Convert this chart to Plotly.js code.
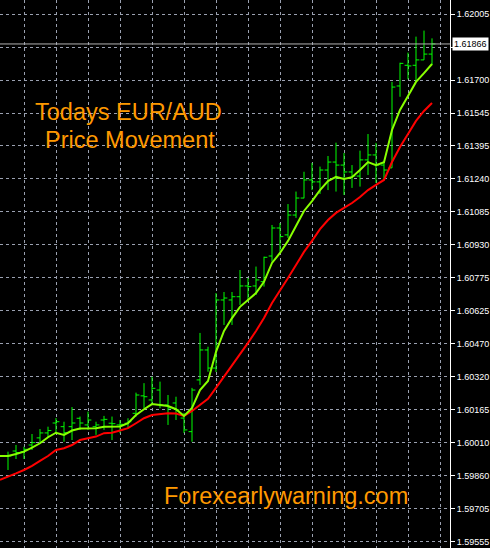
<!DOCTYPE html>
<html><head><meta charset="utf-8">
<script src="https://cdn.plot.ly/plotly-3.0.1.min.js"></script>
<style>html,body{margin:0;padding:0;background:#000;}#chart{width:490px;height:548px;}</style>
</head><body><div id="chart"></div><script>
// OHLC bars (bar 1 .. 54)
const barOpen = [1.59954,1.59977,1.59974,1.60005,1.60038,1.60061,1.60107,1.60090,1.60090,1.60129,
 1.60098,1.60090,1.60121,1.60106,1.60098,1.60106,1.60152,1.60233,1.60214,1.60260,
 1.60191,1.60200,1.60130,1.60067,1.60307,1.60446,1.60362,1.60678,1.60678,1.60693,
 1.60743,1.60743,1.60763,1.60882,1.61012,1.60980,1.61072,1.61151,1.61235,1.61226,
 1.61281,1.61318,1.61304,1.61272,1.61253,1.61328,1.61351,1.61304,1.61291,1.61671,
 1.61767,1.61767,1.61792,1.61819];
const barHigh = [1.59974,1.60005,1.59997,1.60056,1.60079,1.60090,1.60130,1.60113,1.60181,1.60137,
 1.60160,1.60113,1.60140,1.60137,1.60121,1.60129,1.60248,1.60292,1.60322,1.60299,
 1.60237,1.60229,1.60154,1.60270,1.60525,1.60461,1.60710,1.60715,1.60715,1.60817,
 1.60780,1.60833,1.60879,1.61026,1.61035,1.61123,1.61181,1.61273,1.61314,1.61297,
 1.61346,1.61408,1.61360,1.61304,1.61371,1.61448,1.61407,1.61320,1.61690,1.61779,
 1.61826,1.61900,1.61928,1.61892];
const barLow = [1.59889,1.59940,1.59940,1.59982,1.60015,1.60038,1.60056,1.60020,1.60028,1.60075,
 1.60075,1.60052,1.60075,1.60028,1.60060,1.60083,1.60137,1.60176,1.60191,1.60176,
 1.60098,1.60121,1.60061,1.60020,1.60284,1.60345,1.60344,1.60562,1.60562,1.60655,
 1.60670,1.60701,1.60740,1.60856,1.60902,1.60966,1.61059,1.61150,1.61188,1.61170,
 1.61188,1.61181,1.61165,1.61198,1.61204,1.61258,1.61221,1.61235,1.61291,1.61621,
 1.61702,1.61691,1.61792,1.61768];
const barClose = [1.59954,1.59970,1.59985,1.60016,1.60061,1.60072,1.60113,1.60062,1.60107,1.60107,
 1.60121,1.60098,1.60124,1.60104,1.60101,1.60113,1.60237,1.60229,1.60268,1.60191,
 1.60177,1.60168,1.60075,1.60260,1.60446,1.60362,1.60678,1.60687,1.60693,1.60743,
 1.60740,1.60771,1.60876,1.61012,1.60972,1.61072,1.61151,1.61235,1.61226,1.61281,
 1.61318,1.61304,1.61272,1.61253,1.61328,1.61351,1.61304,1.61281,1.61666,1.61776,
 1.61764,1.61792,1.61819,1.61866];
// Moving averages (bar 0 .. 54)
const maFast = [1.59954,1.59954,1.59963,1.59974,1.59993,1.60013,1.60041,1.60062,1.60052,1.60072,
 1.60081,1.60083,1.60083,1.60090,1.60090,1.60091,1.60106,1.60144,1.60171,1.60195,
 1.60191,1.60186,1.60171,1.60140,1.60177,1.60260,1.60302,1.60437,1.60534,1.60594,
 1.60646,1.60676,1.60710,1.60762,1.60850,1.60896,1.60952,1.61021,1.61091,1.61137,
 1.61188,1.61230,1.61249,1.61239,1.61248,1.61281,1.61318,1.61304,1.61317,1.61467,
 1.61560,1.61625,1.61690,1.61731,1.61773];
const maSlow = [1.59843,1.59857,1.59873,1.59889,1.59908,1.59931,1.59954,1.59982,1.59990,1.60005,
 1.60028,1.60036,1.60044,1.60060,1.60062,1.60072,1.60083,1.60106,1.60129,1.60144,
 1.60149,1.60152,1.60151,1.60140,1.60163,1.60191,1.60219,1.60270,1.60321,1.60372,
 1.60423,1.60479,1.60534,1.60594,1.60664,1.60720,1.60780,1.60840,1.60901,1.60952,
 1.61007,1.61049,1.61082,1.61105,1.61128,1.61156,1.61188,1.61212,1.61235,1.61318,
 1.61388,1.61448,1.61509,1.61555,1.61592];
const priceLabels = ["1.62005","","1.61700","1.61545","1.61395","1.61240","1.61085","1.60930",
 "1.60775","1.60625","1.60470","1.60320","1.60165","1.60010","1.59860","1.59705","1.59555"];
const currentPrice = 1.61866;
const currentLabel = "1.61866";
const titleLine1 = "Todays EUR/AUD";
const titleLine2 = "Price Movement";
const siteText = "Forexearlywarning.com";

const barX = barOpen.map((_, i) => i + 1);
const maX = maFast.map((_, i) => i);
const gridStep = 0.0015312;
const priceTicks = priceLabels.map((_, i) => 1.62005 - i * gridStep);
const timeGrid = [];
for (let k = 3; k <= 56; k += 4) timeGrid.push(k);

const FONT = "Liberation Sans, Arial, sans-serif";
const traces = [
  {type:'ohlc', x:barX, open:barOpen, high:barHigh, low:barLow, close:barClose,
   increasing:{line:{color:'#00ff00', width:1}}, decreasing:{line:{color:'#00ff00', width:1}},
   tickwidth:0.42, showlegend:false, hoverinfo:'skip'},
  {type:'scatter', mode:'lines', x:maX, y:maSlow, line:{color:'#ff0000', width:2}, showlegend:false, hoverinfo:'skip'},
  {type:'scatter', mode:'lines', x:maX, y:maFast, line:{color:'#88ff00', width:2}, showlegend:false, hoverinfo:'skip'}
];
const layout = {
  width:490, height:548,
  margin:{l:0, r:40, t:0, b:0, pad:0},
  paper_bgcolor:'#000000', plot_bgcolor:'#000000',
  showlegend:false, hovermode:false,
  xaxis:{range:[0, 56.25], tickmode:'array', tickvals:timeGrid, showticklabels:false,
         ticks:'', showgrid:true, gridcolor:'#9aa0b0', griddash:'3px,3px', gridwidth:1,
         zeroline:false, showline:false, rangeslider:{visible:false}, fixedrange:true},
  yaxis:{range:[1.59527, 1.6207], side:'right', tickmode:'array', tickvals:priceTicks, ticktext:priceLabels,
         showgrid:true, gridcolor:'#9aa0b0', griddash:'3px,3px', gridwidth:1,
         ticks:'outside', ticklen:4, tickcolor:'#ffffff', tickwidth:1,
         showline:true, linecolor:'#ffffff', linewidth:1, zeroline:false,
         tickfont:{family:FONT, size:9, color:'#ffffff'}, fixedrange:true},
  shapes:[{type:'line', xref:'paper', x0:0, x1:1, yref:'y', y0:currentPrice, y1:currentPrice,
           line:{color:'#b0b0b0', width:1}}],
  annotations:[
    {xref:'paper', yref:'y', x:1, y:currentPrice, xanchor:'left', yanchor:'middle', xshift:2,
     text:currentLabel, showarrow:false, bgcolor:'#ffffff', borderpad:1,
     font:{family:FONT, size:9, color:'#000000'}},
    {xref:'paper', yref:'paper', x:128.5/450, y:1-112/548, xanchor:'center', yanchor:'middle',
     text:titleLine1, showarrow:false, font:{family:FONT, size:23.5, color:'#ff9900'}},
    {xref:'paper', yref:'paper', x:130/450, y:1-140/548, xanchor:'center', yanchor:'middle',
     text:titleLine2, showarrow:false, font:{family:FONT, size:23.5, color:'#ff9900'}},
    {xref:'paper', yref:'paper', x:286/450, y:1-496/548, xanchor:'center', yanchor:'middle',
     text:siteText, showarrow:false, font:{family:FONT, size:23.5, color:'#ff9900'}}
  ]
};
Plotly.newPlot('chart', traces, layout, {displayModeBar:false, staticPlot:true});
</script></body></html>
